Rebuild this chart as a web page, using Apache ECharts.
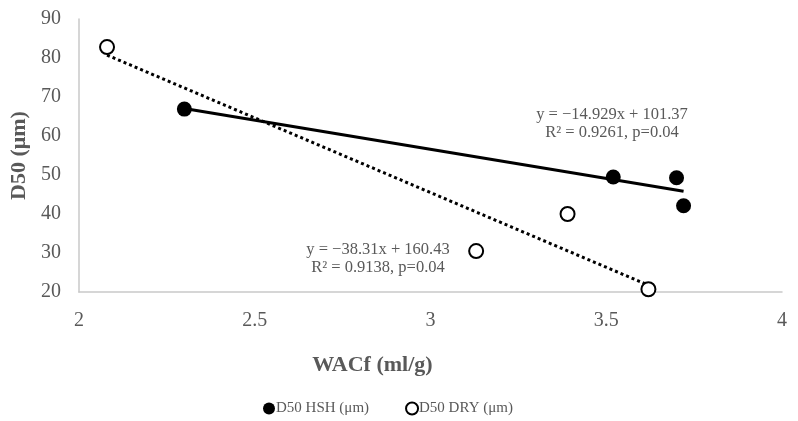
<!DOCTYPE html>
<html>
<head>
<meta charset="utf-8">
<script src="https://cdn.jsdelivr.net/npm/echarts@6/dist/echarts.min.js"></script>
<style>
  html, body { margin: 0; padding: 0; background: #fff; }
  #chart { width: 798px; height: 421px; }
</style>
</head>
<body>
<div id="chart"></div>
<script>
// points: [WACf, D50]
const hshPoints = [[2.30, 66.9], [3.52, 49.5], [3.70, 49.3], [3.72, 42.1]]
const dryPoints = [[2.08, 82.8], [3.13, 30.5], [3.39, 40.0], [3.62, 20.7]]

// trendlines from the printed equations, drawn over each series' x range
const hshFit = { slope: -14.929, icept: 101.37, from: 2.30, to: 3.72 }
const dryFit = { slope: -38.31, icept: 160.43, from: 2.08, to: 3.62 }

const hshLabel = ['y = \u221214.929x + 101.37', 'R\u00b2 = 0.9261, p=0.04']
const dryLabel = ['y = \u221238.31x + 160.43', 'R\u00b2 = 0.9138, p=0.04']

const seriesNames = ['D50 HSH (\u03bcm)', 'D50 DRY (\u03bcm)']
const xTicks = { min: 2, max: 4, interval: 0.5 }
const yTicks = { min: 20, max: 90, interval: 10 }

const fitLine = f => [[f.from, f.slope * f.from + f.icept], [f.to, f.slope * f.to + f.icept]]

const serif = 'Liberation Serif'
const grey = '#595959'

const chart = echarts.init(document.getElementById('chart'))

chart.setOption({
  animation: false,
  textStyle: { fontFamily: serif },
  grid: { left: 74, right: 16, top: 19, bottom: 129 },
  xAxis: {
    type: 'value',
    ...xTicks,
    name: 'WACf (ml/g)',
    nameLocation: 'middle',
    nameGap: 62,
    nameTextStyle: { fontFamily: serif, fontSize: 22, fontWeight: 'bold', color: grey, padding: [0, 116, 0, 0] },
    axisLine: { show: true, lineStyle: { color: '#c9c9c9', width: 1.5 } },
    axisTick: { show: false },
    splitLine: { show: false },
    axisLabel: { fontFamily: serif, fontSize: 20, color: grey, margin: 19 },
  },
  yAxis: {
    type: 'value',
    ...yTicks,
    name: 'D50 (\u03bcm)',
    nameLocation: 'middle',
    nameGap: 39,
    nameTextStyle: { fontFamily: serif, fontSize: 22, fontWeight: 'bold', color: grey },
    axisLine: { show: true, lineStyle: { color: '#c9c9c9', width: 1.5 } },
    axisTick: { show: false },
    splitLine: { show: false },
    axisLabel: { fontFamily: serif, fontSize: 20, color: grey, margin: 18 },
  },
  legend: {
    data: seriesNames,
    top: 396,
    left: 258,
    itemGap: 36,
    itemWidth: 12,
    itemHeight: 12,
    textStyle: { fontFamily: serif, fontSize: 15, color: grey, padding: [0, 0, 0, -4] },
  },
  series: [
    {
      type: 'line',
      data: fitLine(hshFit),
      symbol: 'none',
      lineStyle: { color: '#000', width: 3, type: 'solid' },
      z: 1,
    },
    {
      type: 'line',
      data: fitLine(dryFit),
      symbol: 'none',
      lineStyle: { color: '#000', width: 3, type: [3, 3] },
      z: 1,
    },
    {
      name: seriesNames[0],
      type: 'scatter',
      data: hshPoints,
      symbol: 'circle',
      symbolSize: 15,
      itemStyle: { color: '#000', opacity: 1 },
      z: 3,
    },
    {
      name: seriesNames[1],
      type: 'scatter',
      data: dryPoints,
      symbol: 'circle',
      symbolSize: 14,
      itemStyle: { color: '#fff', borderColor: '#000', borderWidth: 2, opacity: 1 },
      z: 3,
    },
  ],
  graphic: [
    {
      type: 'text', x: 612, y: 106,
      style: { text: hshLabel.join('\n'), font: '16.5px "Liberation Serif"', fill: grey, align: 'center', verticalAlign: 'top', lineHeight: 18 },
    },
    {
      type: 'text', x: 378, y: 241,
      style: { text: dryLabel.join('\n'), font: '16.5px "Liberation Serif"', fill: grey, align: 'center', verticalAlign: 'top', lineHeight: 18 },
    },
  ],
})
</script>
</body>
</html>
